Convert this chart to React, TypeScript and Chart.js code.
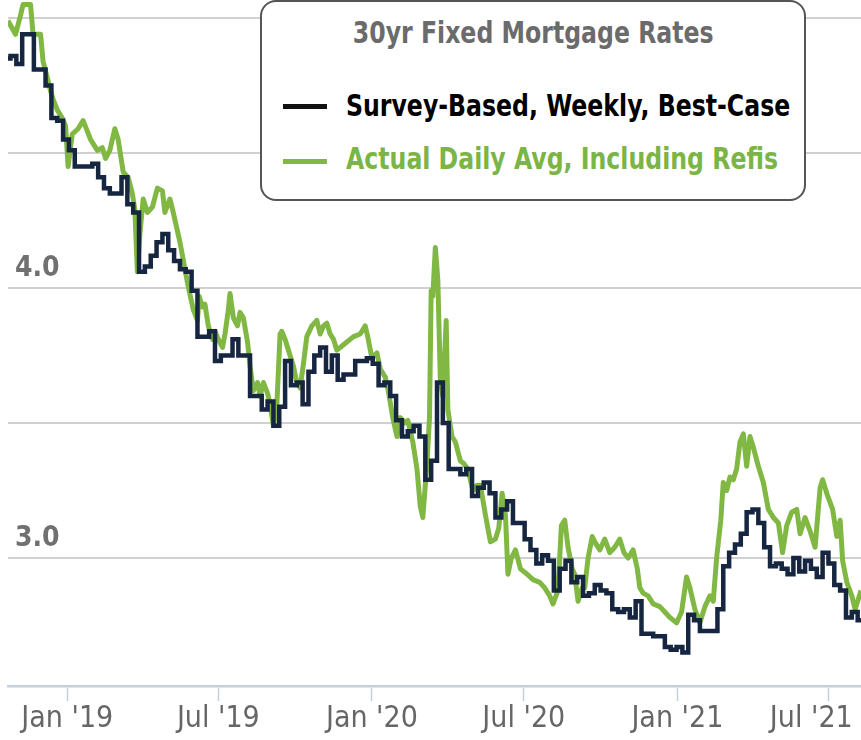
import React, { useEffect, useRef } from "react";
import { Chart, registerables } from "chart.js";

Chart.register(...registerables);

const FONT = "'Liberation Sans Narrow', 'DejaVu Sans Condensed', 'Arial Narrow', sans-serif";

// x positions are days counted from Jan 1, 2019
const blackStartDay = -75; // Oct 18, 2018, then weekly
const blackValues = [
  4.85, 4.86, 4.83, 4.94, 4.94, 4.81, 4.81, 4.75, 4.63, 4.62, 4.55,
  4.51, 4.45, 4.45, 4.45, 4.46, 4.41, 4.37, 4.35, 4.35, 4.41, 4.31, 4.28, 4.06,
  4.08, 4.12, 4.17, 4.20, 4.14, 4.10, 4.07, 4.06, 3.99, 3.82, 3.82, 3.84, 3.73,
  3.75, 3.75, 3.81, 3.75, 3.75, 3.60, 3.60, 3.55, 3.58, 3.49, 3.56, 3.73, 3.64,
  3.65, 3.57, 3.69, 3.75, 3.78, 3.69, 3.75, 3.66, 3.68, 3.68, 3.73, 3.73, 3.74,
  3.72, 3.64, 3.65, 3.60, 3.51, 3.45, 3.47, 3.49, 3.45, 3.29, 3.36, 3.65, 3.50,
  3.33, 3.33, 3.31, 3.33, 3.23, 3.26, 3.28, 3.24, 3.15, 3.18, 3.21, 3.13, 3.13,
  3.07, 3.03, 2.98, 3.01, 2.99, 2.88, 2.96, 2.99, 2.91, 2.93, 2.86, 2.87, 2.90,
  2.88, 2.87, 2.81, 2.80, 2.81, 2.78, 2.84, 2.72, 2.72, 2.71, 2.71, 2.67, 2.66, 2.67,
  2.65, 2.79, 2.77, 2.73, 2.73, 2.73, 2.81, 2.97, 3.02, 3.05, 3.09, 3.17,
  3.18, 3.13, 3.04, 2.97, 2.98, 2.96, 2.94, 3.00, 2.95, 2.99, 2.96, 2.93, 3.02,
  2.98, 2.90, 2.88, 2.78, 2.80, 2.77, 2.87,
];

const greenDays = [
  -71, -62, -56, -53, -44, -41, -32, -29, -24, -20, -17, -12, -6, -2, 1, 6, 13, 19, 28, 36,
  42, 46, 51, 57, 61, 67, 73, 78, 81, 84, 87, 91, 96, 102, 108, 114, 117, 123, 127, 135,
  144, 151, 156, 158, 162, 165, 169, 174, 177, 181, 186, 189, 193, 195, 199, 204, 207, 211, 216, 219,
  223, 228, 231, 235, 240, 243, 247, 251, 255, 257, 261, 265, 271, 275, 279, 283, 287, 293, 299, 303,
  307, 311, 315, 319, 323, 327, 335, 343, 351, 357, 360, 365, 371, 375, 381, 384, 390, 395, 399, 404,
  408, 414, 419, 423, 426, 431, 434, 436, 438, 441, 444, 447, 450, 454, 456, 461, 465, 471, 475, 480,
  486, 491, 495, 501, 507, 513, 517, 521, 525, 528, 532, 537, 543, 551, 558, 566, 572, 578, 582, 588,
  592, 596, 600, 605, 608, 612, 617, 620, 624, 629, 632, 638, 644, 650, 656, 662, 667, 672, 678, 683,
  686, 690, 696, 702, 710, 716, 722, 730, 736, 742, 746, 752, 758, 764, 770, 774, 778, 783, 786, 790,
  794, 798, 802, 806, 810, 814, 818, 822, 828, 834, 840, 846, 852, 857, 862, 868, 874, 878, 884, 890,
  896, 902, 905, 911, 917, 922, 926, 929, 934, 940, 944, 951,
];
const greenValues = [
  4.99, 4.94, 5.01, 5.05, 5.05, 4.94, 4.94, 4.84, 4.78, 4.73, 4.70, 4.66, 4.63, 4.60, 4.45, 4.57, 4.59, 4.62, 4.55, 4.51,
  4.52, 4.48, 4.51, 4.59, 4.55, 4.43, 4.41, 4.35, 4.29, 4.06, 4.20, 4.33, 4.28, 4.30, 4.37, 4.36, 4.28, 4.33, 4.28, 4.17,
  4.02, 3.92, 3.88, 3.97, 3.93, 3.94, 3.86, 3.81, 3.84, 3.81, 3.78, 3.83, 3.92, 3.98, 3.89, 3.86, 3.91, 3.89, 3.80, 3.71,
  3.62, 3.65, 3.60, 3.65, 3.61, 3.57, 3.49, 3.56, 3.83, 3.84, 3.81, 3.77, 3.71, 3.65, 3.63, 3.72, 3.82, 3.86, 3.88, 3.83,
  3.86, 3.87, 3.83, 3.81, 3.77, 3.78, 3.80, 3.82, 3.83, 3.86, 3.82, 3.74, 3.76, 3.70, 3.67, 3.63, 3.52, 3.45, 3.52, 3.50,
  3.51, 3.43, 3.33, 3.19, 3.15, 3.35, 3.52, 3.99, 3.97, 4.15, 4.03, 3.66, 3.60, 3.88, 3.55, 3.45, 3.43, 3.36, 3.35, 3.33,
  3.25, 3.27, 3.27, 3.16, 3.06, 3.07, 3.11, 3.24, 3.16, 2.94, 3.00, 3.03, 2.96, 2.94, 2.92, 2.91, 2.89, 2.86, 2.83, 2.88,
  3.12, 3.14, 3.04, 2.96, 2.94, 2.84, 2.89, 2.89, 3.00, 3.08, 3.06, 3.03, 3.07, 3.02, 3.04, 3.07, 3.02, 3.00, 3.03, 2.96,
  2.89, 2.87, 2.86, 2.83, 2.82, 2.80, 2.78, 2.76, 2.80, 2.93, 2.89, 2.81, 2.76, 2.82, 2.86, 2.84, 3.00, 3.14, 3.28, 3.25,
  3.30, 3.29, 3.33, 3.43, 3.46, 3.34, 3.45, 3.41, 3.34, 3.28, 3.18, 3.15, 3.13, 3.02, 3.12, 3.17, 3.18, 3.09, 3.15, 3.10,
  3.04, 3.26, 3.29, 3.23, 3.18, 3.08, 3.14, 2.99, 2.91, 2.86, 2.81, 2.88,
];

const xTickDays = [0, 181, 365, 547, 731, 912];
const xTickLabels = ["Jan '19", "Jul '19", "Jan '20", "Jul '20", "Jan '21", "Jul '21    "];
const yGridValues = [3.0, 3.5, 4.0, 4.5, 5.0];
const yLabelValues = [3.0, 4.0];

const BLACK = "#172640";
const GREEN = "#80b843";

export default function App() {
  const canvasRef = useRef<HTMLCanvasElement | null>(null);

  useEffect(() => {
    if (!canvasRef.current) return;
    const blackData = blackValues.map((v, i) => ({ x: blackStartDay + 7 * i, y: v }));
    const greenData = greenValues.map((v, i) => ({ x: greenDays[i], y: v }));
    const chart = new Chart(canvasRef.current, {
      type: "line",
      data: {
        datasets: [
          {
            label: "Survey-Based, Weekly, Best-Case",
            data: blackData,
            borderColor: BLACK,
            borderWidth: 4.5,
            stepped: true,
            pointRadius: 0,
            fill: false,
          },
          {
            label: "Actual Daily Avg, Including Refis",
            data: greenData,
            borderColor: GREEN,
            borderWidth: 5,
            tension: 0,
            pointRadius: 0,
            borderJoinStyle: "round",
            fill: false,
          },
        ],
      },
      options: {
        animation: false,
        responsive: true,
        maintainAspectRatio: false,
        layout: { padding: { left: 8, right: 0, top: 0, bottom: 0 } },
        plugins: { legend: { display: false }, tooltip: { enabled: false } },
        scales: {
          x: {
            type: "linear",
            min: -71,
            max: 951,
            afterBuildTicks: (s: any) => {
              s.ticks = xTickDays.map((v) => ({ value: v }));
            },
            afterFit: (s: any) => {
              s.height = 54;
              s.paddingLeft = 0;
              s.paddingRight = 0;
            },
            grid: {
              drawOnChartArea: false,
              drawTicks: true,
              tickLength: 15,
              tickColor: "#c5d0dd",
              tickWidth: 1.5,
            },
            border: { display: true, color: "#c5d0dd", width: 2.5 },
            ticks: {
              autoSkip: false,
              maxRotation: 0,
              padding: 3,
              color: "#666666",
              font: { family: FONT, size: 30, lineHeight: 1 },
              callback: (v: any) => {
                const i = xTickDays.indexOf(Number(v));
                return i >= 0 ? xTickLabels[i] : "";
              },
            },
          },
          y: {
            min: 2.526,
            max: 5.067,
            afterBuildTicks: (s: any) => {
              s.ticks = yGridValues.map((v) => ({ value: v }));
            },
            afterFit: (s: any) => {
              s.width = 0;
              s.paddingTop = 0;
              s.paddingBottom = 0;
            },
            grid: { color: "#d0d0d0", lineWidth: 2, drawTicks: false },
            border: { display: false },
            ticks: {
              mirror: true,
              padding: 7,
              labelOffset: -19,
              color: "#707070",
              font: { family: FONT, size: 28, weight: "bold" },
              callback: (v: any) => (yLabelValues.includes(Number(v)) ? Number(v).toFixed(1) : ""),
            },
          },
        },
      },
    });
    return () => chart.destroy();
  }, []);

  const squeeze = (origin: string): React.CSSProperties => ({
    display: "inline-block",
    transform: "scaleX(0.875)",
    transformOrigin: origin,
  });

  return (
    <div style={{ position: "absolute", left: 0, top: 0, width: 861, height: 740, background: "#fff" }}>
      <canvas ref={canvasRef} />
      <div
        style={{
          position: "absolute",
          left: 260,
          top: 0,
          width: 546,
          height: 201,
          boxSizing: "border-box",
          border: "2.5px solid #555555",
          borderRadius: 16,
          background: "#fff",
          fontFamily: FONT,
          fontWeight: "bold",
          fontSize: 30,
          lineHeight: "36px",
          whiteSpace: "nowrap",
        }}
      >
        <div style={{ position: "absolute", left: 0, right: 0, top: 13, textAlign: "center", color: "#6b6b6b" }}>
          <span style={squeeze("center")}>30yr Fixed Mortgage Rates</span>
        </div>
        <div style={{ position: "absolute", left: 21, top: 102, width: 44, height: 5, background: "#111" }} />
        <div style={{ position: "absolute", left: 84, top: 86, color: "#000" }}>
          <span style={squeeze("left")}>Survey-Based, Weekly, Best-Case</span>
        </div>
        <div style={{ position: "absolute", left: 21, top: 157, width: 44, height: 5, background: GREEN }} />
        <div style={{ position: "absolute", left: 84, top: 139, color: "#7ab545" }}>
          <span style={squeeze("left")}>Actual Daily Avg, Including Refis</span>
        </div>
      </div>
    </div>
  );
}
